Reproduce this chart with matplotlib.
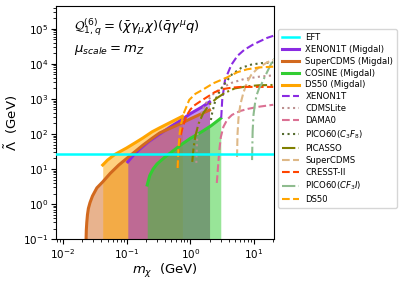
import numpy as np
import matplotlib
matplotlib.use("Agg")
import matplotlib.pyplot as plt

# EFT validity line
eft_lambda = 26.0

# Migdal limits (solid, filled)
xe_mig_m = [0.104, 0.13, 0.16, 0.22, 0.33, 0.5, 0.67, 1.0, 1.5, 2.0]
xe_mig_l = [16, 26, 37, 60, 100, 165, 230, 380, 580, 820]

scdms_mig_m = [0.023, 0.0232, 0.0236, 0.0242, 0.025, 0.0265, 0.029, 0.034, 0.042, 0.055, 0.075, 0.1, 0.14, 0.18, 0.25, 0.33, 0.5, 0.67, 1.0, 1.5, 2.0]
scdms_mig_l = [0.1, 0.18, 0.3, 0.5, 0.75, 1.1, 1.7, 2.9, 4.3, 7.5, 13, 20, 33, 48, 75, 107, 150, 190, 270, 380, 480]

cosine_mig_m = [0.21, 0.23, 0.26, 0.3, 0.4, 0.5, 0.7, 1.0, 1.5, 2.1, 3.0]
cosine_mig_l = [3.5, 6.5, 10, 14, 22, 30, 48, 75, 115, 170, 280]

ds50_mig_m = [0.042, 0.05, 0.065, 0.1, 0.14, 0.18, 0.25, 0.33, 0.5, 0.75]
ds50_mig_l = [13, 18, 26, 40, 58, 77, 115, 150, 220, 320]

# standard nuclear recoil limits
xe_m = [3.05, 3.16, 3.5, 4.4, 5.5, 7.0, 9.5, 12, 16, 20]
xe_l = [290, 930, 3500, 9400, 17000, 25000, 35000, 43000, 55000, 63000]

cdmslite_m = [1.24, 1.27, 1.32, 1.45, 1.7, 2.2, 3.0, 4.5, 7.0, 12, 20]
cdmslite_l = [15, 60, 150, 350, 700, 1300, 2000, 2900, 3700, 4300, 4700]

dama_m = [2.6, 2.7, 2.85, 3.0, 3.3, 3.8, 4.5, 6.0, 8.0, 12, 20]
dama_l = [4, 10, 35, 80, 160, 260, 350, 450, 520, 600, 680]

pico_c3f8_m = [2.1, 2.2, 2.5, 3.0, 3.6, 4.5, 6.3, 9.0, 13, 20]
pico_c3f8_l = [250, 400, 1000, 1900, 3000, 5000, 7700, 9500, 10500, 11000]

picasso_m = [1.07, 1.12, 1.2, 1.35, 1.6, 2.0, 2.6, 3.5, 5.0, 8.0, 12, 20]
picasso_l = [16, 40, 90, 200, 400, 700, 1050, 1500, 2000, 2300, 2450, 2500]

scdms_m = [5.4, 5.5, 5.7, 6.1, 6.8, 7.8, 9.0, 11, 13, 16, 20]
scdms_l = [22, 100, 290, 700, 1500, 3000, 4800, 7000, 8700, 11000, 13000]

cresst_m = [0.63, 0.66, 0.7, 0.76, 0.87, 1.0, 1.15, 1.5, 2.0, 2.4, 3.2, 4.5, 6.3, 10, 20]
cresst_l = [10.7, 40, 90, 160, 330, 500, 650, 900, 1250, 1550, 1900, 2100, 2200, 2200, 2200]

pico_cf3i_m = [9.3, 9.5, 9.8, 10.4, 11, 12, 12.9, 14.5, 16.5, 19, 21]
pico_cf3i_l = [18, 120, 350, 800, 1300, 2000, 2500, 4000, 6500, 11000, 14000]

ds50_m = [0.63, 0.65, 0.68, 0.72, 0.8, 0.96, 1.2, 1.54, 2.3, 3.65, 5.5, 7.8, 12, 20]
ds50_l = [10.7, 40, 110, 205, 420, 940, 1400, 1800, 2800, 4000, 5800, 7000, 7900, 8300]

fig = plt.figure(figsize=(4.07, 2.81), dpi=100)
ax = fig.add_axes([0.138, 0.149, 0.535, 0.83])

ymin = 0.1

# filled Migdal regions
ax.fill_between(scdms_mig_m, scdms_mig_l, ymin, color='chocolate', alpha=0.5, lw=0)
ax.fill_between(ds50_mig_m, ds50_mig_l, ymin, color='orange', alpha=0.5, lw=0)
ax.fill_between(xe_mig_m, xe_mig_l, ymin, color='blueviolet', alpha=0.5, lw=0)
ax.fill_between(cosine_mig_m, cosine_mig_l, ymin, color='limegreen', alpha=0.5, lw=0)

ax.axhline(eft_lambda, color='cyan', lw=1.8, label='EFT', zorder=5)

ax.plot(xe_mig_m, xe_mig_l, color='blueviolet', lw=2.2, label='XENON1T (Migdal)')
ax.plot(scdms_mig_m, scdms_mig_l, color='chocolate', lw=2.2, label='SuperCDMS (Migdal)')
ax.plot(cosine_mig_m, cosine_mig_l, color='limegreen', lw=2.2, label='COSINE (Migdal)')
ax.plot(ds50_mig_m, ds50_mig_l, color='orange', lw=2.2, label='DS50 (Migdal)')

ax.plot(xe_m, xe_l, color='blueviolet', ls='--', lw=1.5, label='XENON1T')
ax.plot(cdmslite_m, cdmslite_l, color='rosybrown', ls=':', lw=1.5, label='CDMSLite')
ax.plot(dama_m, dama_l, color='palevioletred', ls='--', lw=1.5, label='DAMA0')
ax.plot(pico_c3f8_m, pico_c3f8_l, color='darkolivegreen', ls=':', lw=1.5, label='PICO60($C_3F_8$)')
ax.plot(picasso_m, picasso_l, color='olive', ls='-.', lw=1.5, label='PICASSO')
ax.plot(scdms_m, scdms_l, color='burlywood', ls='--', lw=1.5, label='SuperCDMS')
ax.plot(cresst_m, cresst_l, color='orangered', ls='--', lw=1.5, label='CRESST-II')
ax.plot(pico_cf3i_m, pico_cf3i_l, color='darkseagreen', ls='-.', lw=1.5, label='PICO60($CF_3I$)')
ax.plot(ds50_m, ds50_l, color='orange', ls='--', lw=1.5, label='DS50')

ax.set_xscale('log')
ax.set_yscale('log')
ax.set_xlim(0.0078, 20.5)
ax.set_ylim(ymin, 4.5e5)
ax.tick_params(labelsize=7.5, pad=2)

ax.set_xlabel(r'$m_\chi$  (GeV)', fontsize=9.5, labelpad=1)
ax.set_ylabel(r'$\tilde{\Lambda}$  (GeV)', fontsize=9.5, labelpad=2)

ax.text(0.08, 0.91, r'$\mathcal{Q}_{1,q}^{(6)} = (\bar{\chi}\gamma_\mu\chi)(\bar{q}\gamma^\mu q)$',
        transform=ax.transAxes, fontsize=9.5, va='center')
ax.text(0.08, 0.81, r'$\mu_{scale} = m_Z$', transform=ax.transAxes, fontsize=9.5, va='center')

ax.legend(loc='upper left', bbox_to_anchor=(1.02, 0.9), fontsize=6.1, labelspacing=0.35,
          borderaxespad=0.)

fig.savefig('out.png', dpi=100)
